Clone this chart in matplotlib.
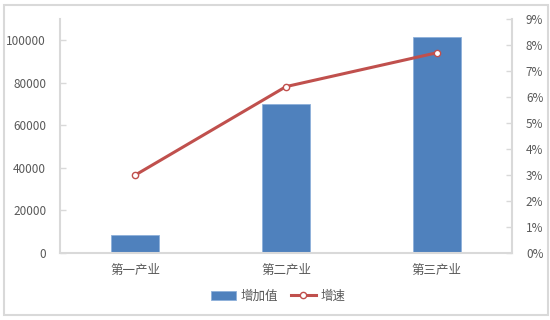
import numpy as np
import matplotlib.pyplot as plt
from matplotlib.patches import Rectangle
from matplotlib.ticker import FuncFormatter

plt.rcParams['font.family'] = ['Noto Sans CJK SC', 'DejaVu Sans']

categories = ['第一产业', '第二产业', '第三产业']
added_value = [8500, 70000, 101700]   # 增加值
growth = [3.0, 6.4, 7.7]              # 增速 (%)

bar_color = '#4F81BD'
line_color = '#C0504D'
text_color = '#595959'
axis_color = '#D9D9D9'

fig = plt.figure(figsize=(5.5, 3.2), dpi=100)
fig.patches.append(Rectangle((4 / 550, 5 / 320), 544 / 550, 310 / 320,
                             transform=fig.transFigure, fill=False,
                             edgecolor='#D9D9D9', linewidth=1.5))

ax = fig.add_axes([60 / 550, 1 - 253 / 320, 452 / 550, 234 / 320])
x = np.arange(len(categories))
ax.bar(x, added_value, width=0.32, color=bar_color, edgecolor='#8EB0DA',
       linewidth=0.6, label='增加值', zorder=2)
ax.set_xlim(-0.5, 2.5)
ax.set_ylim(0, 110000)
ax.set_yticks(np.arange(0, 100001, 20000))
ax.set_xticks(x)
ax.set_xticklabels(categories)

ax2 = ax.twinx()
ax2.plot(x, growth, color=line_color, linewidth=2.2, marker='o',
         markersize=4.5, markerfacecolor='white', markeredgecolor=line_color,
         markeredgewidth=1, label='增速', zorder=3)
ax2.set_ylim(0, 9)
ax2.set_yticks(np.arange(0, 10, 1))
ax2.yaxis.set_major_formatter(FuncFormatter(lambda v, p: f'{v:.0f}%'))

for a in (ax, ax2):
    for s in a.spines.values():
        s.set_visible(False)
    a.tick_params(axis='both', colors=axis_color, labelcolor=text_color,
                  labelsize=8.5, length=4, width=1)
ax.spines['left'].set_visible(True)
ax.spines['left'].set_color(axis_color)
ax.spines['left'].set_linewidth(1.5)
ax.spines['bottom'].set_visible(True)
ax.spines['bottom'].set_color(axis_color)
ax.spines['bottom'].set_linewidth(1.5)
ax2.spines['right'].set_visible(True)
ax2.spines['right'].set_color(axis_color)
ax2.spines['right'].set_linewidth(1.5)
ax.tick_params(axis='x', length=0, pad=8, labelsize=9)
ax.tick_params(axis='y', direction='in', pad=10)
ax2.tick_params(axis='y', direction='in', pad=10)

h1, l1 = ax.get_legend_handles_labels()
h2, l2 = ax2.get_legend_handles_labels()
fig.legend(h1 + h2, l1 + l2, loc='center', bbox_to_anchor=(278 / 550, 1 - 296 / 320),
           ncol=2, frameon=False, fontsize=9, labelcolor=text_color,
           handlelength=2.0, columnspacing=1.0, handletextpad=0.4)

fig.savefig('out.png', dpi=100)
